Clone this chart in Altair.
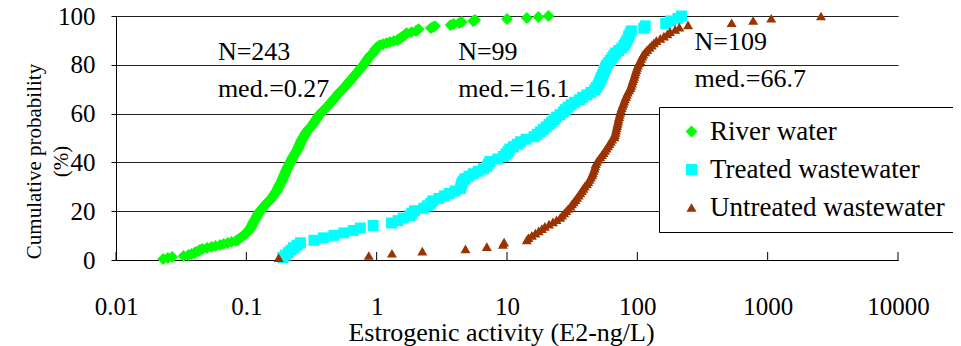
import altair as alt
import pandas as pd

series_names = ["River water", "Treated wastewater", "Untreated wastewater"]
series_colors = ["#00ff00", "#00ffff", "#993300"]
series_shapes = ["diamond", "square", "triangle-up"]

river = [
    0.023, 0.025,
    0.027, 0.033, 0.036,
    0.038, 0.040, 0.041, 0.043, 0.044,
    0.046, 0.050, 0.054, 0.058, 0.063,
    0.067, 0.072, 0.077, 0.083,
    0.086, 0.088, 0.090, 0.092, 0.094, 0.096, 0.098, 0.100, 0.102, 0.104,
    0.105, 0.106, 0.108, 0.109, 0.110, 0.111, 0.112, 0.113, 0.114, 0.115, 0.117,
    0.118, 0.119, 0.120, 0.121, 0.122, 0.123, 0.125, 0.126, 0.128,
    0.130, 0.132, 0.134, 0.136, 0.138, 0.140, 0.142, 0.144, 0.147, 0.150, 0.153,
    0.155, 0.157, 0.159, 0.161, 0.163, 0.165, 0.167, 0.169, 0.172,
    0.173, 0.174, 0.176, 0.177, 0.179, 0.180, 0.182, 0.184, 0.186, 0.188,
    0.189, 0.190, 0.192, 0.193, 0.195, 0.196, 0.198, 0.199, 0.201, 0.202,
    0.204, 0.205, 0.207, 0.209, 0.211, 0.213, 0.215, 0.217,
    0.219, 0.221, 0.223, 0.225, 0.227, 0.229, 0.232, 0.234, 0.237, 0.239, 0.242, 0.245,
    0.247, 0.249, 0.251, 0.253, 0.255, 0.257, 0.259, 0.261, 0.263, 0.265, 0.268, 0.270,
    0.273, 0.276, 0.279, 0.282, 0.285, 0.288, 0.291, 0.295, 0.299, 0.304, 0.310,
    0.315, 0.319, 0.323, 0.327, 0.331, 0.335, 0.339, 0.343, 0.347, 0.351, 0.355, 0.360, 0.365, 0.370,
    0.377, 0.384, 0.391, 0.398, 0.405, 0.412, 0.419, 0.426, 0.433, 0.440, 0.447, 0.453, 0.460,
    0.468, 0.475, 0.482, 0.489, 0.496, 0.503, 0.511, 0.519, 0.527, 0.538, 0.550,
    0.558, 0.566, 0.575, 0.584, 0.593, 0.602, 0.611, 0.620, 0.630, 0.640, 0.650, 0.660,
    0.670, 0.680, 0.690, 0.700, 0.710, 0.720, 0.731, 0.742, 0.753, 0.764, 0.776, 0.790,
    0.80, 0.81, 0.82, 0.83, 0.84, 0.85, 0.86, 0.87, 0.88, 0.90, 0.92, 0.94,
    0.95, 0.96, 0.97, 0.98, 0.99, 1.01, 1.03, 1.06,
    1.12, 1.19, 1.26, 1.35, 1.44,
    1.48, 1.52, 1.56, 1.60, 1.64, 1.67, 1.70,
    1.85, 2.0, 2.05, 2.1, 2.6, 2.7, 2.8, 3.7, 3.9,
    4.3, 4.5, 5.5, 5.7, 10.0, 14.2, 17.4, 20.8,
]

treated = [
    0.19, 0.20, 0.21, 0.22, 0.23, 0.245, 0.26,
    0.33, 0.39, 0.47, 0.56, 0.66, 0.75, 0.94,
    1.3, 1.46, 1.6, 1.8, 1.86, 1.95,
    2.3, 2.45, 2.6, 2.7, 3.0, 3.3, 3.6, 4.0, 4.4, 4.45,
    4.5, 4.6, 4.75, 5.1, 5.5, 6.0, 6.6, 7.0, 7.2, 7.4,
    8.5, 9.4, 9.8, 10.2, 10.5, 11.2, 12.0, 12.7, 14.0, 16.1,
    17.0, 18.0, 19.0, 20.0, 21.0, 22.0, 23.0, 24.0, 25.5, 27.0,
    28.0, 29.5, 31.0, 33.0, 36.0, 38.0, 41.0, 44.0, 47.0, 48.5,
    50.0, 51.0, 52.0, 53.0, 54.0, 55.0, 56.0, 57.0, 58.0, 60.0,
    62.0, 64.0, 66.0, 68.0, 72.0, 76.0, 79.0, 81.0, 83.0, 85.0,
    86.0, 88.0, 90.0, 112.0, 115.0, 165.0, 180.0, 205.0, 218.0,
]

untreated = [
    0.177, 0.87, 1.31, 2.24, 4.8, 7.0, 9.3, 9.5, 14.2, 14.6,
    15.5, 16.5, 17.5, 18.5, 19.5, 21.0, 22.5, 24.0, 25.6, 26.5,
    27.5, 28.5, 29.5, 30.7, 31.5, 32.5, 33.5, 34.5, 35.5, 36.5,
    37.5, 38.5, 39.5, 41.0, 42.0, 43.0, 44.0, 45.0, 45.5, 46.3,
    47.0, 47.5, 48.0, 49.0, 50.5, 52.0, 53.5, 55.0, 56.5, 58.0,
    59.5, 61.0, 62.5, 64.0, 66.7, 67.3, 68.0, 68.6, 69.2, 69.9,
    70.5, 71.2, 71.8, 72.5, 73.2, 74.0, 74.8, 75.8, 76.9, 78.0,
    79.2, 80.4, 81.7, 83.0, 84.5, 86.5, 88.6, 89.8, 91.0, 92.2,
    93.4, 94.6, 95.8, 97.0, 98.2, 99.5, 101.0, 103.0, 105.0, 107.0,
    109.0, 111.0, 115.0, 119.0, 124.0, 129.0, 134.0, 140.0, 150.0, 160.0,
    170.0, 178.0, 195.0, 210.0, 245.0, 529.0, 774.0, 1065.0, 2565.0,
]

ann_text = ["N=243", "med.=0.27", "N=99", "med.=16.1", "N=109", "med.=66.7"]
ann_x = [0.0605, 0.0605, 4.22, 4.22, 275.0, 275.0]
ann_y = [81.9, 66.9, 81.9, 66.9, 86.0, 70.9]

x_ticks = [0.01, 0.1, 1, 10, 100, 1000, 10000]
y_ticks = [0, 20, 40, 60, 80, 100]

FONT = "Liberation Serif"
W, H = 782, 244

rows = []
for name, vals in zip(series_names, [river, treated, untreated]):
    for v in vals:
        rows.append({"series": name, "value": v})
df = pd.DataFrame(rows)

xscale = alt.Scale(type="log", domain=[0.01, 10000])
yscale = alt.Scale(domain=[0, 100], nice=False)

points = (
    alt.Chart(df)
    .transform_window(cp="cume_dist()", groupby=["series"], sort=[alt.SortField("value")])
    .transform_calculate(pct="datum.cp * 100")
    .mark_point(filled=True, opacity=1)
    .encode(
        x=alt.X(
            "value:Q",
            scale=xscale,
            axis=alt.Axis(
                values=x_ticks,
                format="~g",
                ticks=False,
                grid=False,
                domainColor="black",
                labelFont=FONT,
                labelFontSize=25,
                labelColor="black",
                labelBaseline="alphabetic",
                labelPadding=54,
                labelFlush=False,
                labelOverlap=False,
                title="Estrogenic activity (E2-ng/L)",
                titleFont=FONT,
                titleFontSize=26,
                titleFontWeight="normal",
                titleColor="black",
                titleBaseline="alphabetic",
                titleX=385,
                titleY=80,
            ),
        ),
        y=alt.Y(
            "pct:Q",
            scale=yscale,
            axis=alt.Axis(
                values=y_ticks,
                grid=True,
                gridColor="#222222",
                gridWidth=1,
                domainColor="black",
                tickColor="black",
                tickSize=5,
                labelFont=FONT,
                labelFontSize=25,
                labelColor="black",
                labelPadding=16,
                labelFlush=False,
                title=["Cumulative probability", "(%)"],
                titleFont=FONT,
                titleFontSize=21,
                titleFontWeight="normal",
                titleColor="black",
                titleLineHeight=27,
                titleBaseline="middle",
                titleAngle=270,
                titleX=-82,
                titleY=145,
            ),
        ),
        color=alt.Color(
            "series:N",
            scale=alt.Scale(domain=series_names, range=series_colors),
            legend=alt.Legend(title=None),
        ),
        shape=alt.Shape(
            "series:N",
            scale=alt.Scale(domain=series_names, range=series_shapes),
            legend=alt.Legend(title=None),
        ),
        size=alt.Size(
            "series:N",
            scale=alt.Scale(domain=series_names, range=[140, 100, 190]),
            legend=None,
        ),
    )
)

tick_df = pd.DataFrame({"t": x_ticks})
ticks = (
    alt.Chart(tick_df)
    .mark_rule(color="black", strokeWidth=1)
    .encode(x=alt.X("t:Q", scale=xscale), y=alt.value(H - 8), y2=alt.value(H))
)

ann_df = pd.DataFrame({"label": ann_text, "x": ann_x, "y": ann_y})
ann = (
    alt.Chart(ann_df)
    .mark_text(align="left", baseline="alphabetic", font=FONT, fontSize=26, color="black")
    .encode(x=alt.X("x:Q", scale=xscale), y=alt.Y("y:Q", scale=yscale), text="label:N")
)

chart = (
    alt.layer(points, ticks, ann)
    .properties(
        width=W,
        height=H,
        autosize=alt.AutoSizeParams(type="none"),
        padding={"left": 108, "top": 8, "right": 55, "bottom": 86},
        background="white",
    )
    .configure_view(strokeWidth=0)
    .configure_legend(
        orient="none",
        legendX=543,
        legendY=91,
        labelFont=FONT,
        labelFontSize=27,
        labelColor="black",
        labelLimit=400,
        strokeColor="black",
        fillColor="white",
        padding=11,
        rowPadding=10,
        symbolSize=150,
        symbolOffset=8,
        labelOffset=5,
        symbolOpacity=1,
        symbolStrokeWidth=0,
        cornerRadius=0,
    )
)

chart.save("out.html", embed_options={"renderer": "svg", "actions": False})
